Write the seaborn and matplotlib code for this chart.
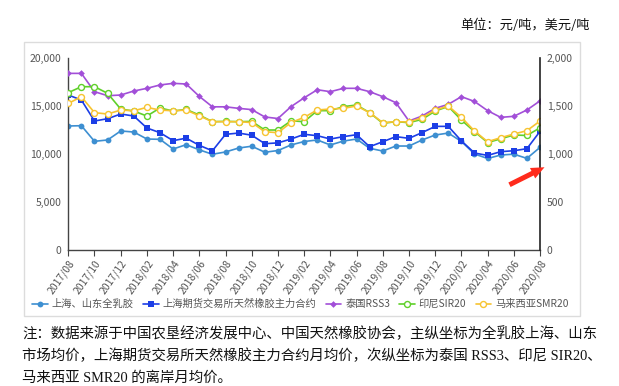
import numpy as np
import pandas as pd
import matplotlib
matplotlib.use('Agg')
import matplotlib.pyplot as plt
from matplotlib.patches import Rectangle
import seaborn as sns

# monthly data, 2017/08 - 2020/08
months = ['2017/08', '2017/09', '2017/10', '2017/11', '2017/12', '2018/01', '2018/02',
          '2018/03', '2018/04', '2018/05', '2018/06', '2018/07', '2018/08', '2018/09',
          '2018/10', '2018/11', '2018/12', '2019/01', '2019/02', '2019/03', '2019/04',
          '2019/05', '2019/06', '2019/07', '2019/08', '2019/09', '2019/10', '2019/11',
          '2019/12', '2020/01', '2020/02', '2020/03', '2020/04', '2020/05', '2020/06',
          '2020/07', '2020/08']
tick_labels = months[::2]

# left axis, yuan/ton
sh_sd_whole_latex = [12940, 12970, 11340, 11480, 12420, 12310, 11580, 11550, 10540, 10990,
                     10450, 9990, 10230, 10640, 10830, 10200, 10380, 10960, 11320, 11480,
                     10960, 11370, 11580, 10610, 10330, 10850, 10850, 11480, 12000, 12200,
                     11330, 10020, 9550, 9910, 10000, 9560, 10710]
shfe_main = [16170, 15650, 13460, 13700, 14190, 13980, 12730, 12240, 11410, 11670,
             10920, 10350, 12070, 12200, 11980, 11090, 11180, 11580, 12070, 11930,
             11580, 11830, 12030, 10780, 11300, 11830, 11650, 12250, 12900, 12900,
             11390, 10120, 9870, 10260, 10360, 10570, 12380]

# right axis, usd/ton
thai_rss3 = [1843, 1843, 1652, 1610, 1617, 1659, 1687, 1722, 1739, 1732,
             1603, 1494, 1494, 1478, 1465, 1388, 1372, 1496, 1588, 1672,
             1652, 1687, 1687, 1652, 1600, 1537, 1346, 1398, 1478, 1520,
             1600, 1550, 1454, 1384, 1395, 1461, 1556]
indo_sir20 = [1642, 1704, 1704, 1635, 1471, 1450, 1398, 1482, 1450, 1467,
              1408, 1339, 1342, 1339, 1342, 1252, 1252, 1348, 1339, 1454,
              1454, 1496, 1513, 1433, 1322, 1339, 1329, 1363, 1450, 1498,
              1356, 1235, 1121, 1160, 1200, 1195, 1275]
malay_smr20 = [1530, 1599, 1433, 1419, 1460, 1453, 1488, 1460, 1453, 1460,
               1400, 1339, 1339, 1339, 1330, 1234, 1224, 1330, 1384, 1461,
               1471, 1478, 1503, 1433, 1329, 1339, 1335, 1381, 1461, 1503,
               1384, 1242, 1130, 1172, 1210, 1245, 1346]

x = np.arange(len(months))

sns.set_theme(style='white')
plt.rcParams['font.family'] = ['Noto Sans CJK SC', 'DejaVu Sans']
plt.rcParams['axes.unicode_minus'] = False

fig = plt.figure(figsize=(6.19, 3.86), dpi=100)
ax = fig.add_axes([0.1103, 0.3523, 0.7621, 0.4966])
ax2 = ax.twinx()

# grey frame round the chart
fig.patches.append(Rectangle((0.0388, 0.1813), 0.898, 0.7098, transform=fig.transFigure,
                             fill=False, edgecolor='#dcdcdc', linewidth=1.0))

sns.lineplot(x=x, y=sh_sd_whole_latex, ax=ax, color='#3d8fd1', marker='o', markersize=4.2,
             markeredgewidth=0, linewidth=1.2, label='上海、山东全乳胶')
sns.lineplot(x=x, y=shfe_main, ax=ax, color='#1c3ee6', marker='s', markersize=4.5,
             markeredgewidth=0, linewidth=1.2, label='上海期货交易所天然橡胶主力合约')
sns.lineplot(x=x, y=thai_rss3, ax=ax2, color='#a24fd8', marker='D', markersize=3.4,
             markeredgewidth=0, linewidth=1.2, label='泰国RSS3')
sns.lineplot(x=x, y=indo_sir20, ax=ax2, color='#5fd02a', marker='o', markersize=4.3,
             markerfacecolor='white', markeredgecolor='#5fd02a', markeredgewidth=1.0,
             linewidth=1.2, label='印尼SIR20')
sns.lineplot(x=x, y=malay_smr20, ax=ax2, color='#f7c431', marker='o', markersize=4.3,
             markerfacecolor='white', markeredgecolor='#f7c431', markeredgewidth=1.0,
             linewidth=1.2, label='马来西亚SMR20')

h1, l1 = ax.get_legend_handles_labels()
h2, l2 = ax2.get_legend_handles_labels()
if ax.get_legend():
    ax.get_legend().remove()
if ax2.get_legend():
    ax2.get_legend().remove()

ax.set_xlim(0, len(months) - 1)
ax.set_ylim(0, 20000)
ax2.set_ylim(0, 2000)
ax.set_xticks(x[::2])
ax.set_xticklabels(tick_labels, rotation=55, ha='right', rotation_mode='anchor')
ax.set_yticks([0, 5000, 10000, 15000, 20000])
ax.set_yticklabels(['0', '5,000', '10,000', '15,000', '20,000'])
ax2.set_yticks([0, 500, 1000, 1500, 2000])
ax2.set_yticklabels(['0', '500', '1,000', '1,500', '2,000'])
ax.set_xlabel('')
ax.set_ylabel('')
ax2.set_ylabel('')

ax.tick_params(axis='x', bottom=True, length=4, width=0.8, color='#444', pad=2,
               labelsize=7.5, labelcolor='#555')
ax.tick_params(axis='y', left=False, length=0, pad=5, labelsize=7.5, labelcolor='#555')
ax2.tick_params(axis='y', right=False, length=0, pad=5, labelsize=7.5, labelcolor='#555')

for a in (ax, ax2):
    a.spines['top'].set_visible(False)
    a.grid(False)
ax.spines['right'].set_visible(False)
ax.spines['left'].set_color('#444')
ax.spines['bottom'].set_color('#444')
ax2.spines['left'].set_visible(False)
ax2.spines['bottom'].set_visible(False)
ax2.spines['right'].set_color('#222')
for s in ('left', 'bottom'):
    ax.spines[s].set_linewidth(1.0)
ax2.spines['right'].set_linewidth(1.2)

fig.legend(h1 + h2, l1 + l2, loc='center', bbox_to_anchor=(0.4855, 0.2124), ncol=5,
           frameon=False, fontsize=7.4, handlelength=1.5, handletextpad=0.4,
           columnspacing=0.9, labelcolor='#555')

# unit
fig.text(0.953, 0.935, '单位：元/吨，美元/吨', ha='right', va='center', fontsize=9.5,
         color='#111')

# red arrow pointing at the right axis
ax2.annotate('', xy=(547 / 619, 1 - 166 / 386), xytext=(507 / 619, 1 - 186 / 386),
             xycoords='figure fraction', textcoords='figure fraction',
             arrowprops=dict(arrowstyle='simple,head_width=0.7,head_length=0.8,tail_width=0.3',
                             color='#ff2b1c', lw=0))

# footnote
note_font = ['Liberation Serif', 'Noto Sans CJK SC']
notes = ['注：数据来源于中国农垦经济发展中心、中国天然橡胶协会，主纵坐标为全乳胶上海、山东',
         '市场均价，上海期货交易所天然橡胶主力合约月均价，次纵坐标为泰国 RSS3、印尼 SIR20、',
         '马来西亚 SMR20 的离岸月均价。']
for i, line in enumerate(notes):
    fig.text(22 / 619, 1 - (334 + 22 * i) / 386, line, ha='left', va='center',
             fontsize=10.4, color='#111', family=note_font)

fig.savefig('out.png', dpi=100)
